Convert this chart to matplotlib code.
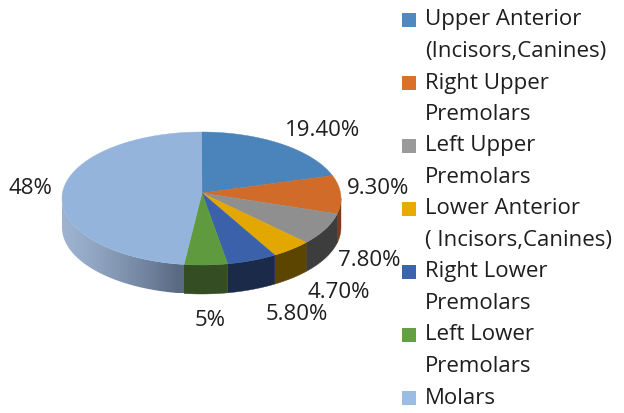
import numpy as np
import matplotlib
matplotlib.use("Agg")
import matplotlib.pyplot as plt
from matplotlib.patches import Polygon, Rectangle
from matplotlib.colors import to_rgb

plt.rcParams["font.family"] = ["Open Sans", "DejaVu Sans"]

# data, clockwise from 12 o'clock
labels = ["Upper Anterior\n(Incisors,Canines)", "Right Upper\nPremolars",
          "Left Upper\nPremolars", "Lower Anterior\n( Incisors,Canines)",
          "Right Lower\nPremolars", "Left Lower\nPremolars", "Molars"]
values = [19.4, 9.3, 7.8, 4.7, 5.8, 5.0, 48.0]
value_text = ["19.40%", "9.30%", "7.80%", "4.70%", "5.80%", "5%", "48%"]
top_colors = ["#4a84bb", "#d06b29", "#8f8f8f", "#e2a700", "#3a61aa", "#5f9b3e", "#94b4dc"]
side_colors = ["#2c4f72", "#7a3d14", "#3d3d3d", "#5c4500", "#1c2a4a", "#344d22", "#8ea8c8"]
legend_colors = ["#4f89c0", "#d9712b", "#9a9a9a", "#e6ac00", "#3c63ad", "#62a041", "#9cbde3"]

# geometry in pixel space
cx, cy, rx, ry = 201.5, 198.5, 139.5, 66.5
apex = (202.0, 193.0)
depth = 29.0
label_pos = [(323, 130), (378, 188), (369, 260), (339, 292), (297, 315), (210, 320), (30, 188)]
FS = 16


def ept(t, dy=0.0):
    r = np.radians(t)
    return np.column_stack([cx + rx * np.cos(r), cy - ry * np.sin(r) + dy])


fig = plt.figure(figsize=(6.24, 4.13), dpi=100)
ax = fig.add_axes([0, 0, 1, 1])
ax.set_xlim(0, 624)
ax.set_ylim(413, 0)
ax.axis("off")

angles = 90 - np.concatenate([[0], np.cumsum(values)]) * 3.6

# side walls, front half only (angles between -180 and 0)
for i in range(len(values)):
    hi, lo = angles[i], angles[i + 1]
    if hi <= -180:
        hi, lo = hi + 360, lo + 360
    s_lo, s_hi = max(lo, -180), min(hi, 0)
    if s_hi <= s_lo:
        continue
    t = np.linspace(s_hi, s_lo, 80)
    side = np.vstack([ept(t), ept(t[::-1], depth)])
    if i == len(values) - 1:
        # shaded wall on the big slice
        xs = np.linspace(0, 1, 256)
        f = np.clip(xs / 0.95, 0, 1) ** 1.3
        c0 = np.array(to_rgb("#9db3d0"))
        c1 = np.array(to_rgb("#5a6a83"))
        grad = (c0[None, :] * (1 - f[:, None]) + c1[None, :] * f[:, None])[None, :, :]
        x0, x1 = side[:, 0].min(), side[:, 0].max()
        y0, y1 = side[:, 1].min(), side[:, 1].max()
        im = ax.imshow(grad, extent=[x0, x1, y1, y0], aspect="auto",
                       interpolation="bilinear", zorder=1)
        clip = Polygon(side, closed=True, facecolor="none", edgecolor="none")
        ax.add_patch(clip)
        im.set_clip_path(clip)
    else:
        ax.add_patch(Polygon(side, closed=True, facecolor=side_colors[i],
                             edgecolor=side_colors[i], lw=0.3, zorder=1))

# restore limits after imshow
ax.set_xlim(0, 624)
ax.set_ylim(413, 0)

# top faces
for i in range(len(values)):
    t = np.linspace(angles[i], angles[i + 1], 120)
    pts = np.vstack([[apex], ept(t)])
    ax.add_patch(Polygon(pts, closed=True, facecolor=top_colors[i],
                         edgecolor=top_colors[i], lw=0.3, zorder=2))

# data labels
for txt, (x, y) in zip(value_text, label_pos):
    ax.text(x, y, txt, ha="center", va="center", fontsize=FS, color="#1e1e1e")

# legend
leg_x, leg_y, line_h = 402, 20, 31.5
row = 0
for lab, col in zip(labels, legend_colors):
    y = leg_y + row * line_h
    ax.add_patch(Rectangle((leg_x, y - 7), 14, 14, facecolor=col, edgecolor="none"))
    for j, line in enumerate(lab.split("\n")):
        ax.text(leg_x + 23, y + j * line_h, line, ha="left", va="center",
                fontsize=FS, color="#1e1e1e")
    row += len(lab.split("\n"))

fig.savefig("out.png", dpi=100)
